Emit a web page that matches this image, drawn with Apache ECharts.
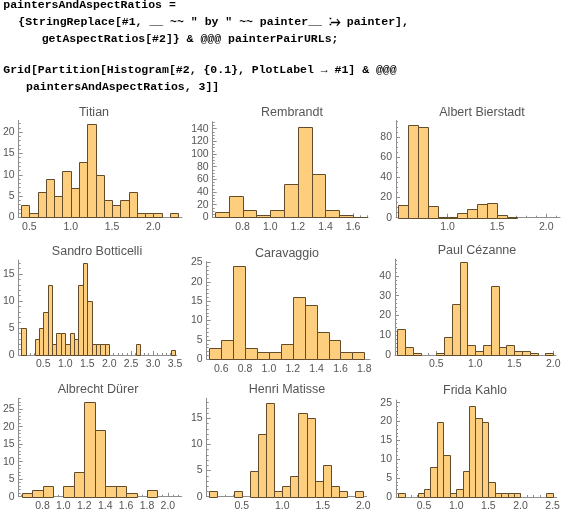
<!DOCTYPE html>
<html><head><meta charset="utf-8">
<script src="https://cdn.jsdelivr.net/npm/echarts@6/dist/echarts.min.js"></script>
<style>html,body{margin:0;padding:0;background:#fff}#c{width:572px;height:512px}</style>
</head><body><div id="c"></div>
<script>
// ---------------- data ----------------
const painters = ["Titian", "Rembrandt", "Albert Bierstadt",
                  "Sandro Botticelli", "Caravaggio", "Paul Cézanne",
                  "Albrecht Dürer", "Henri Matisse", "Frida Kahlo"];
const binWidth = 0.1;
// lower edge of the first bin of each histogram
const firstBin = [0.4, 0.6, 0.5, 0.0, 0.5, 0.0, 0.6, 0.1, 0.1];

const titianCounts     = [3, 1, 6, 9, 5, 11, 7, 13, 22, 10, 4, 3, 4, 6, 1, 1, 1, 0, 1];
const rembrandtCounts  = [8, 33, 12, 3, 12, 53, 143, 69, 11, 3, 1];
const bierstadtCounts  = [13, 92, 90, 12, 1, 1, 5, 9, 14, 15, 3, 1];
const botticelliCounts = [5, 0, 0, 3, 5, 8, 13, 2, 4, 4, 2, 4, 3, 13, 17, 10, 2, 2, 2, 2,
                          0, 0, 0, 0, 0, 0, 2, 0, 0, 0, 0, 0, 0, 0, 1];
const caravaggioCounts = [3, 5, 24, 3, 2, 2, 4, 16, 14, 7, 5, 2, 2];
const cezanneCounts    = [13, 4, 1, 0, 0, 1, 9, 26, 47, 5, 2, 5, 35, 4, 5, 2, 2, 1, 0, 1];
const durerCounts      = [1, 2, 3, 0, 3, 7, 27, 19, 3, 3, 1, 0, 2];
const matisseCounts    = [1, 0, 0, 1, 0, 5, 12, 18, 1, 2, 4, 16, 15, 3, 6, 2, 1, 0, 1];
const kahloCounts      = [1, 0, 0, 1, 2, 8, 20, 11, 1, 2, 7, 24, 21, 20, 4, 1, 1, 1, 1, 0, 0, 0, 0, 1];

const counts = [titianCounts, rembrandtCounts, bierstadtCounts,
                botticelliCounts, caravaggioCounts, cezanneCounts,
                durerCounts, matisseCounts, kahloCounts];

// tick labels
const xTickLabels = [
  [0.5, 1.0, 1.5, 2.0],
  [0.8, 1.0, 1.2, 1.4, 1.6],
  [1.0, 1.5, 2.0],
  [0.5, 1.0, 1.5, 2.0, 2.5, 3.0, 3.5],
  [0.6, 0.8, 1.0, 1.2, 1.4, 1.6, 1.8],
  [0.5, 1.0, 1.5, 2.0],
  [0.8, 1.0, 1.2, 1.4, 1.6, 1.8, 2.0],
  [0.5, 1.0, 1.5, 2.0],
  [0.5, 1.0, 1.5, 2.0, 2.5]
];
const yTickLabels = [
  [0, 5, 10, 15, 20],
  [0, 20, 40, 60, 80, 100, 120, 140],
  [0, 20, 40, 60, 80],
  [0, 5, 10, 15],
  [0, 5, 10, 15, 20, 25],
  [0, 10, 20, 30, 40],
  [0, 5, 10, 15, 20, 25],
  [0, 5, 10, 15],
  [0, 5, 10, 15, 20, 25]
];

const codeLines = [
  "paintersAndAspectRatios =",
  "{StringReplace[#1, __ ~~ \" by \" ~~ painter__ \u29F4 painter],",
  "getAspectRatios[#2]} & @@@ painterPairURLs;",
  "Grid[Partition[Histogram[#2, {0.1}, PlotLabel \u2192 #1] & @@@",
  "paintersAndAspectRatios, 3]]"
];

// ---------------- layout / style ----------------
const codeX = [3.3, 18.3, 41.7, 3.3, 26];
const codeBaseline = [11, 28.3, 45.6, 76, 93.3];

const panels = [
  {left: 18.3,  top: 120.3, width: 163.7, height: 97,   xMin: 0.371, xMax: 2.346, yMax: 22.8, xMinor: 0.1,  yMinor: 1, tx: 94,  ty: 112.3},
  {left: 212.7, top: 121.7, width: 155.3, height: 95.6, xMin: 0.583, xMax: 1.708, yMax: 151,  xMinor: 0.05, yMinor: 5, tx: 292, ty: 112.3},
  {left: 396,   top: 120.7, width: 164,   height: 97,   xMin: 0.477, xMax: 2.139, yMax: 96,   xMinor: 0.1,  yMinor: 5, tx: 482, ty: 112.3},
  {left: 17.3,  top: 260,   width: 159.4, height: 95,   xMin: -0.061, xMax: 3.537, yMax: 17.6, xMinor: 0.1, yMinor: 1, tx: 97,  ty: 252},
  {left: 206.7, top: 261.7, width: 163.3, height: 97.6, xMin: 0.478, xMax: 1.848, yMax: 25.2, xMinor: 0.05, yMinor: 1, tx: 287, ty: 253.5},
  {left: 395,   top: 259,   width: 161,   height: 96,   xMin: -0.029, xMax: 2.035, yMax: 48.6, xMinor: 0.1, yMinor: 2, tx: 477, ty: 251},
  {left: 17.3,  top: 398.3, width: 164.4, height: 98.4, xMin: 0.572, xMax: 2.132, yMax: 28.1, xMinor: 0.05, yMinor: 1, tx: 98,  ty: 390},
  {left: 206.7, top: 398.3, width: 160,   height: 98.4, xMin: 0.068, xMax: 2.043, yMax: 18.85, xMinor: 0.1, yMinor: 1, tx: 287, ty: 390},
  {left: 396,   top: 400,   width: 160.7, height: 98.3, xMin: 0.064, xMax: 2.563, yMax: 25.7, xMinor: 0.1,  yMinor: 1, tx: 475, ty: 391}
];

const AXIS = '#8e8e8e';
const LABEL = '#555555';
const FILL = '#FCCE7E';
const EDGE = '#624c2c';
const SANS = '"Liberation Sans", Arial, sans-serif';
const MONO = '"Liberation Mono", "DejaVu Sans Mono", "DejaVu Sans", monospace';

function minorTicks(min, max, step, majors) {
  const out = [];
  for (let k = Math.ceil(min / step - 1e-9); k * step <= max + 1e-9; k++) {
    const v = Math.round(k * step * 1e6) / 1e6;
    if (!majors.some(m => Math.abs(m - v) < 1e-6)) out.push(v);
  }
  return out;
}

function renderBar(params, api) {
  const a = api.coord([api.value(0), api.value(2)]);
  const b = api.coord([api.value(1), 0]);
  const l = Math.round(a[0]) + 0.5, r = Math.round(b[0]) + 0.5;
  const t = Math.round(a[1]) + 0.5, bt = Math.round(b[1]) + 0.5;
  return {
    type: 'rect',
    shape: {x: l, y: t, width: r - l, height: bt - t},
    style: {fill: FILL, stroke: EDGE, lineWidth: 1}
  };
}

const grid = [], xAxis = [], yAxis = [], series = [], graphic = [];

codeLines.forEach((txt, i) => {
  graphic.push({
    type: 'text', x: codeX[i], y: codeBaseline[i],
    style: {text: txt, font: 'bold 11.5px ' + MONO, fill: '#000',
            align: 'left', textAlign: 'left', verticalAlign: 'bottom', textVerticalAlign: 'bottom'}
  });
});

panels.forEach((p, i) => {
  grid.push({left: p.left, top: p.top, width: p.width, height: p.height, containLabel: false});
  const xMaj = xTickLabels[i], yMaj = yTickLabels[i];
  xAxis.push({
    type: 'value', gridIndex: i, position: 'bottom', min: p.xMin, max: p.xMax,
    axisLine: {show: true, onZero: false, lineStyle: {color: AXIS, width: 1}},
    axisTick: {show: true, inside: true, length: 4, customValues: xMaj, lineStyle: {color: AXIS}},
    axisLabel: {show: true, customValues: xMaj, formatter: v => v.toFixed(1), color: LABEL,
                fontSize: 10.5, fontFamily: SANS, margin: 4},
    splitLine: {show: false}
  });
  xAxis.push({
    type: 'value', gridIndex: i, position: 'bottom', min: p.xMin, max: p.xMax,
    axisLine: {show: false, onZero: false},
    axisTick: {show: true, inside: true, length: 2,
               customValues: minorTicks(p.xMin, p.xMax, p.xMinor, xMaj), lineStyle: {color: AXIS}},
    axisLabel: {show: false},
    splitLine: {show: false}
  });
  yAxis.push({
    type: 'value', gridIndex: i, position: 'left', min: 0, max: p.yMax,
    axisLine: {show: true, onZero: false, lineStyle: {color: AXIS, width: 1}},
    axisTick: {show: true, inside: true, length: 4, customValues: yMaj, lineStyle: {color: AXIS}},
    axisLabel: {show: true, customValues: yMaj, color: LABEL, fontSize: 10.5, fontFamily: SANS, margin: 4},
    splitLine: {show: false}
  });
  yAxis.push({
    type: 'value', gridIndex: i, position: 'left', min: 0, max: p.yMax,
    axisLine: {show: false, onZero: false},
    axisTick: {show: true, inside: true, length: 2,
               customValues: minorTicks(0, p.yMax, p.yMinor, yMaj), lineStyle: {color: AXIS}},
    axisLabel: {show: false},
    splitLine: {show: false}
  });
  const data = [];
  counts[i].forEach((c, k) => {
    if (c > 0) {
      const x0 = firstBin[i] + k * binWidth;
      data.push([x0, x0 + binWidth, c]);
    }
  });
  series.push({
    type: 'custom', xAxisIndex: 2 * i, yAxisIndex: 2 * i,
    renderItem: renderBar, data: data, encode: {x: [0, 1], y: 2},
    clip: false, silent: true, animation: false
  });
  graphic.push({
    type: 'text', x: p.tx, y: p.ty,
    style: {text: painters[i], font: '12.5px ' + SANS, fill: '#555555',
            align: 'center', textAlign: 'center', verticalAlign: 'middle', textVerticalAlign: 'middle'}
  });
});

const chart = echarts.init(document.getElementById('c'), null, {renderer: 'canvas', width: 572, height: 512});
chart.setOption({
  backgroundColor: '#ffffff',
  animation: false,
  grid, xAxis, yAxis, series, graphic
});
</script>
</body></html>
